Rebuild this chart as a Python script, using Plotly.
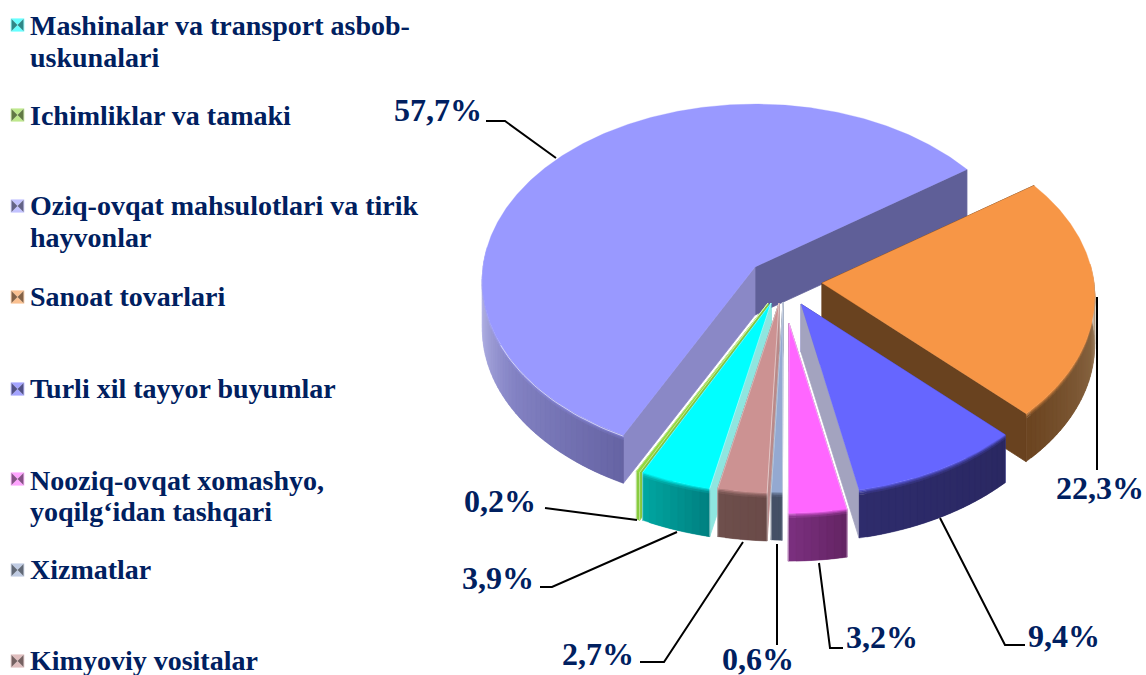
import numpy as np
import plotly.graph_objects as go

# ---------- data ----------
slice_names = ["Oziq-ovqat mahsulotlari va tirik hayvonlar", "Ichimliklar va tamaki",
               "Mashinalar va transport asbob-uskunalari", "Kimyoviy vositalar", "Xizmatlar",
               "Nooziq-ovqat xomashyo, yoqilg‘idan tashqari", "Turli xil tayyor buyumlar", "Sanoat tovarlari"]
slice_values = [57.7, 0.2, 3.9, 2.7, 0.6, 3.2, 9.4, 22.3]
slice_labels = ["57,7%", "0,2%", "3,9%", "2,7%", "0,6%", "3,2%", "9,4%", "22,3%"]
legend_lines = [["Mashinalar va transport asbob-", "uskunalari"], ["Ichimliklar va tamaki"],
                ["Oziq-ovqat mahsulotlari va tirik", "hayvonlar"], ["Sanoat tovarlari"],
                ["Turli xil tayyor buyumlar"], ["Nooziq-ovqat xomashyo,", "yoqilg‘idan tashqari"],
                ["Xizmatlar"], ["Kimyoviy vositalar"]]
legend_slice = [2, 1, 0, 7, 6, 5, 4, 3]

# ---------- style / layout ----------
W, H = 1146, 675
TEXT = "#002060"
FONT = "Liberation Serif"
top_col = ["#9999FF", "#92D83F", "#00FFFF", "#CC9292", "#94A9D1", "#FF66FF", "#6666FF", "#F79646"]
cut_low = ["#5F5F98", "#86C83C", "#00B0B0", "#6E4F4C", "#445066", "#A0409F", "#A3A3BF", "#69421F"]
cut_high = ["#8A88C6", "#86C83C", "#8EE6E0", "#B98A8A", "#7E90B0", "#A0409F", "#4A4AB0", "#69421F"]
wall_stops = [
    [(0, "#E2E2F8"), (.1, "#B4B4E6"), (.5, "#8483C4"), (1, "#6664A4")],
    [(0, "#88CC3F"), (1, "#88CC3F")],
    [(0, "#00A8A2"), (1, "#007F80")],
    [(0, "#6E4F4C"), (1, "#6A4A48")],
    [(0, "#445066"), (1, "#445066")],
    [(0, "#7C3080"), (1, "#632463")],
    [(0, "#2E2C6C"), (1, "#2A2862")],
    [(0, "#6B4420"), (.6, "#85623F"), (.85, "#A58C72"), (1, "#E4DCD2")],
]
apex = [(755, 267), (768, 303), (771, 303), (779, 303), (783, 302), (789, 323), (801, 304), (822, 283)]
hi_visible_last = [True, True, True, True, True, False, False, False]
theta0 = 35.5
RX, RY, K, DEPTH = 272.0, 175.5, 0.077, 48.0

leaders = [[(486, 121), (505, 121), (556, 158)], [(545, 508), (637, 520)], [(540, 587), (552, 587), (677, 532)],
           [(640, 662), (664, 662), (743, 542)], [(777, 544), (777, 645)], [(819, 563), (830, 648), (843, 648)],
           [(940, 518), (1005, 645), (1025, 645)], [(1097, 297), (1097, 470)]]
label_pos = [(438, 110), (500, 501), (498, 578), (598, 654), (758, 659), (882, 637), (1064, 636), (1100, 488)]
legend_y = [[25, 57], [115], [205, 237], [296], [388], [480, 511], [569], [660]]
icon_y = [25, 115, 206, 297, 389, 479, 570, 661]


def hex2rgb(c):
    return np.array([int(c[i:i + 2], 16) for i in (1, 3, 5)], float)


def rgb(a):
    return "rgb(%d,%d,%d)" % tuple(np.clip(np.round(a), 0, 255))


def stop_colour(stops, t):
    ts = [s[0] for s in stops]
    cs = np.array([hex2rgb(s[1]) for s in stops])
    return np.array([np.interp(t, ts, cs[:, i]) for i in range(3)])


def project(a, deg):
    th = np.radians(deg)
    X, Y = np.cos(th), -np.sin(th)
    d = 1 - K * Y
    return a[0] + RX * X / d, a[1] + RY * Y / d


fig = go.Figure()


def poly(xs, ys, fill, line=None, lw=0.8):
    fig.add_trace(go.Scatter(x=list(xs), y=list(ys), mode="lines", fill="toself", fillcolor=fill,
                             line=dict(color=line or fill, width=lw), hoverinfo="skip", showlegend=False))


# angular ranges from the values
ranges = []
lo = theta0
for v in slice_values:
    hi = lo + v * 3.6
    ranges.append((lo, hi))
    lo = hi


def draw_slice(i):
    a = apex[i]
    lo, hi = ranges[i]
    # radial cut faces, the one that can be seen painted last
    faces = [(lo, cut_low[i]), (hi, cut_high[i])]
    if not hi_visible_last[i]:
        faces.reverse()
    for deg, col in faces:
        px, py = project(a, deg)
        poly([a[0], px, px, a[0], a[0]], [a[1], py, py + DEPTH, a[1] + DEPTH, a[1]], col)
    # outer wall: overlapping strips along the front of the arc
    step = max(0.5, min(1.5, (hi - lo) / 6))
    sts = np.arange(lo, hi + 1e-6, step)
    sts = np.append(sts, hi) if sts[-1] < hi else sts
    visible = [d for d in sts if -np.sin(np.radians(d)) > -0.12]
    if i == 7:  # orange runs towards the right silhouette
        t_of = lambda d: (d - lo) / (365 - lo)
    elif i == 0:
        t_of = lambda d: (d - 180) / (hi - 180)
    else:
        t_of = lambda d: (d - lo) / (hi - lo)
    bands = [(0, .03, .7), (.03, .06, .4), (.06, .1, .15), (.1, 1, 0)]
    tc = hex2rgb(top_col[i])
    for j in range(len(visible) - 1):
        d0, d1 = visible[j], visible[j + 1]
        d2 = visible[min(j + 2, len(visible) - 1)]
        x0, y0 = project(a, d0)
        x1, y1 = project(a, d1)
        x2, y2 = project(a, d2)
        t = np.clip(t_of((d0 + d1) / 2), 0, 1)
        base = stop_colour(wall_stops[i], t)
        for f0, f1, mix in bands:
            col = base * (1 - mix) + tc * mix
            poly([x0, x1, x2, x2, x1, x0, x0],
                 [y0 + f0 * DEPTH, y1 + f0 * DEPTH, y2 + f0 * DEPTH, y2 + f1 * DEPTH, y1 + f1 * DEPTH,
                  y0 + f1 * DEPTH, y0 + f0 * DEPTH], rgb(col), lw=0.3)
    # top face
    degs = np.linspace(lo, hi, max(6, int((hi - lo) * 2)))
    px, py = project(a, degs)
    poly([a[0], *px, a[0]], [a[1], *py, a[1]], top_col[i], lw=0.3)


for i in [0, 7, 1, 2, 3, 4, 6, 5]:
    draw_slice(i)

# glossy rim near the front corner of the large slice
rim = np.linspace(ranges[0][1] - 38, ranges[0][1], 30)
rx_, ry_ = project(apex[0], rim)
fig.add_trace(go.Scatter(x=rx_, y=ry_ + 1, mode="lines", line=dict(color="rgba(255,255,255,0.6)", width=1),
                         hoverinfo="skip", showlegend=False))

# small white separators along the radial top edges of the narrow front slices
for i in (1, 2, 3, 4, 5):
    for deg in ranges[i]:
        px, py = project(apex[i], deg)
        fig.add_trace(go.Scatter(x=[apex[i][0], px, px], y=[apex[i][1], py, py + DEPTH], mode="lines",
                                 line=dict(color="rgba(255,255,255,0.6)", width=0.8), hoverinfo="skip", showlegend=False))

# leader lines
for pts in leaders:
    fig.add_trace(go.Scatter(x=[p[0] for p in pts], y=[p[1] for p in pts], mode="lines",
                             line=dict(color="#000000", width=2), hoverinfo="skip", showlegend=False))

annotations = []
for txt, (x, y) in zip(slice_labels, label_pos):
    annotations.append(dict(x=x, y=y, text="<b>%s</b>" % txt, showarrow=False, xanchor="center", yanchor="middle",
                            font=dict(family=FONT, size=32, color=TEXT)))
for lines, ys in zip(legend_lines, legend_y):
    for t, y in zip(lines, ys):
        annotations.append(dict(x=30, y=y, text="<b>%s</b>" % t, showarrow=False, xanchor="left", yanchor="middle",
                                xshift=-2, font=dict(family=FONT, size=28, color=TEXT)))

# bevelled legend keys
shapes = []
S = 6.5
for idx, y in zip(legend_slice, icon_y):
    x = 17.5
    base = hex2rgb(top_col[idx])
    light = rgb(base * .6 + 255 * .4)
    pale = rgb(base * .35 + 255 * .65)
    dark = rgb(base * .35 + np.array([70, 70, 70]) * .65)
    tri = [((-S, -S), (S, -S), light), ((-S, S), (S, S), light), ((-S, -S), (-S, S), dark), ((S, -S), (S, S), dark)]
    for p, q, c in tri:
        shapes.append(dict(type="path", xref="x", yref="y",
                           path="M%g,%g L%g,%g L%g,%g Z" % (x + p[0], y + p[1], x + q[0], y + q[1], x, y),
                           fillcolor=c, line=dict(width=0)))
    shapes.append(dict(type="rect", xref="x", yref="y", x0=x - S, x1=x + S, y0=y - S, y1=y + S,
                       line=dict(color=pale, width=1), fillcolor="rgba(0,0,0,0)"))

fig.update_layout(width=W, height=H, margin=dict(l=0, r=0, t=0, b=0), paper_bgcolor="white", plot_bgcolor="white",
                  xaxis=dict(range=[0, W], visible=False, fixedrange=True),
                  yaxis=dict(range=[H, 0], visible=False, fixedrange=True),
                  annotations=annotations, shapes=shapes, showlegend=False)
fig.write_html("out.html", config={"displayModeBar": False},
               post_script="document.body.style.margin='0';document.body.style.overflow='hidden';")
